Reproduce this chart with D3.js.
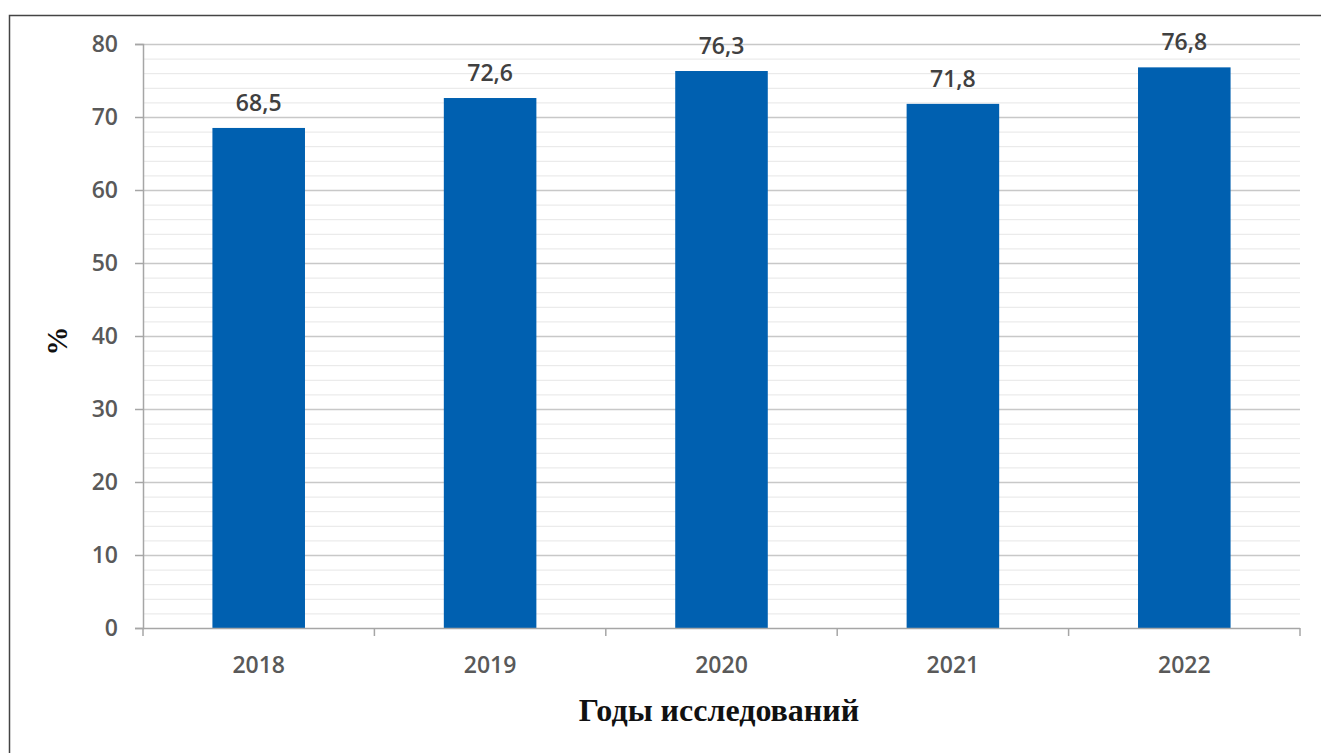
<!DOCTYPE html>
<html>
<head>
<meta charset="utf-8">
<script src="https://cdn.jsdelivr.net/npm/d3@7"></script>
<style>
  body { margin: 0; background: #fff; }
</style>
</head>
<body>
<div id="chart"></div>
<script>
// data
const years = ['2018', '2019', '2020', '2021', '2022'];
const values = [68.5, 72.6, 76.3, 71.8, 76.8];
const yTicks = [0, 10, 20, 30, 40, 50, 60, 70, 80];

// measures
const width = 1321;
const height = 753;
const plotLeft = 143;
const plotRight = 1300;
const plotTop = 44;
const plotBottom = 628;

// colors
const barColor = '#0060b0';
const majorGrid = '#c8c8c8';
const minorGrid = '#e6e6e6';
const axisColor = '#a6a6a6';
const tickText = '#595959';
const labelText = '#404040';

const svg = d3.select('#chart').append('svg')
    .attr('width', width)
    .attr('height', height);

// outer frame (cropped at right and bottom)
svg.append('rect')
    .attr('x', 9.5)
    .attr('y', 15.5)
    .attr('width', width + 20)
    .attr('height', height + 20)
    .attr('fill', 'none')
    .attr('stroke', '#444')
    .attr('stroke-width', 1.5);

const x = d3.scaleBand()
    .domain(years)
    .range([plotLeft, plotRight])
    .paddingInner(0.6)
    .paddingOuter(0.3);

const y = d3.scaleLinear()
    .domain([0, 80])
    .range([plotBottom, plotTop]);

// minor gridlines every 2
const minorTicks = d3.range(2, 80, 2).filter(v => v % 10 !== 0);
svg.append('g').selectAll('line')
    .data(minorTicks)
    .join('line')
    .attr('x1', plotLeft)
    .attr('x2', plotRight)
    .attr('y1', d => y(d) + 0.5)
    .attr('y2', d => y(d) + 0.5)
    .attr('stroke', minorGrid)
    .attr('stroke-width', 1);

// major gridlines
svg.append('g').selectAll('line')
    .data(yTicks.filter(v => v > 0))
    .join('line')
    .attr('x1', plotLeft)
    .attr('x2', plotRight)
    .attr('y1', d => y(d) + 0.5)
    .attr('y2', d => y(d) + 0.5)
    .attr('stroke', majorGrid)
    .attr('stroke-width', 1.5);

// y axis
const yAxis = svg.append('g')
    .attr('transform', `translate(${plotLeft},0)`)
    .call(d3.axisLeft(y).tickValues(yTicks).tickSize(8).tickPadding(17));
yAxis.select('.domain').attr('stroke', axisColor).attr('stroke-width', 1.5);
yAxis.selectAll('.tick line').attr('stroke', axisColor).attr('stroke-width', 1.5);
yAxis.selectAll('.tick text')
    .attr('fill', tickText)
    .style('font-family', '"Open Sans", sans-serif')
    .style('font-weight', 600)
    .style('font-size', '23px');

// bars
svg.append('g').selectAll('rect')
    .data(values)
    .join('rect')
    .attr('x', (d, i) => x(years[i]))
    .attr('y', d => y(d))
    .attr('width', x.bandwidth())
    .attr('height', d => y(0) - y(d))
    .attr('fill', barColor);

// value labels
svg.append('g').selectAll('text')
    .data(values)
    .join('text')
    .attr('x', (d, i) => x(years[i]) + x.bandwidth() / 2)
    .attr('y', d => y(d) - 17)
    .attr('text-anchor', 'middle')
    .attr('fill', labelText)
    .style('font-family', '"Open Sans", sans-serif')
    .style('font-weight', 600)
    .style('font-size', '23px')
    .text(d => String(d).replace('.', ','));

// x axis with ticks at category boundaries
const step = (plotRight - plotLeft) / years.length;
const boundaries = d3.range(years.length + 1).map(i => plotLeft + i * step);
svg.append('line')
    .attr('x1', plotLeft)
    .attr('x2', plotRight)
    .attr('y1', plotBottom + 0.5)
    .attr('y2', plotBottom + 0.5)
    .attr('stroke', axisColor)
    .attr('stroke-width', 1.5);
svg.append('g').selectAll('line')
    .data(boundaries)
    .join('line')
    .attr('x1', d => d)
    .attr('x2', d => d)
    .attr('y1', plotBottom)
    .attr('y2', plotBottom + 8)
    .attr('stroke', axisColor)
    .attr('stroke-width', 1.5);

svg.append('g').selectAll('text')
    .data(years)
    .join('text')
    .attr('x', d => x(d) + x.bandwidth() / 2)
    .attr('y', 673)
    .attr('text-anchor', 'middle')
    .attr('fill', tickText)
    .style('font-family', '"Open Sans", sans-serif')
    .style('font-weight', 600)
    .style('font-size', '23px')
    .text(d => d);

// axis titles
svg.append('text')
    .attr('x', 719)
    .attr('y', 721)
    .attr('text-anchor', 'middle')
    .attr('fill', '#111')
    .style('font-family', '"Liberation Serif", serif')
    .style('font-weight', 'bold')
    .style('font-size', '32px')
    .text('Годы исследований');

svg.append('text')
    .attr('transform', 'translate(67,341) rotate(-90)')
    .attr('text-anchor', 'middle')
    .attr('fill', '#111')
    .style('font-family', '"Liberation Serif", serif')
    .style('font-weight', 'bold')
    .style('font-size', '29px')
    .text('%');
</script>
</body>
</html>
